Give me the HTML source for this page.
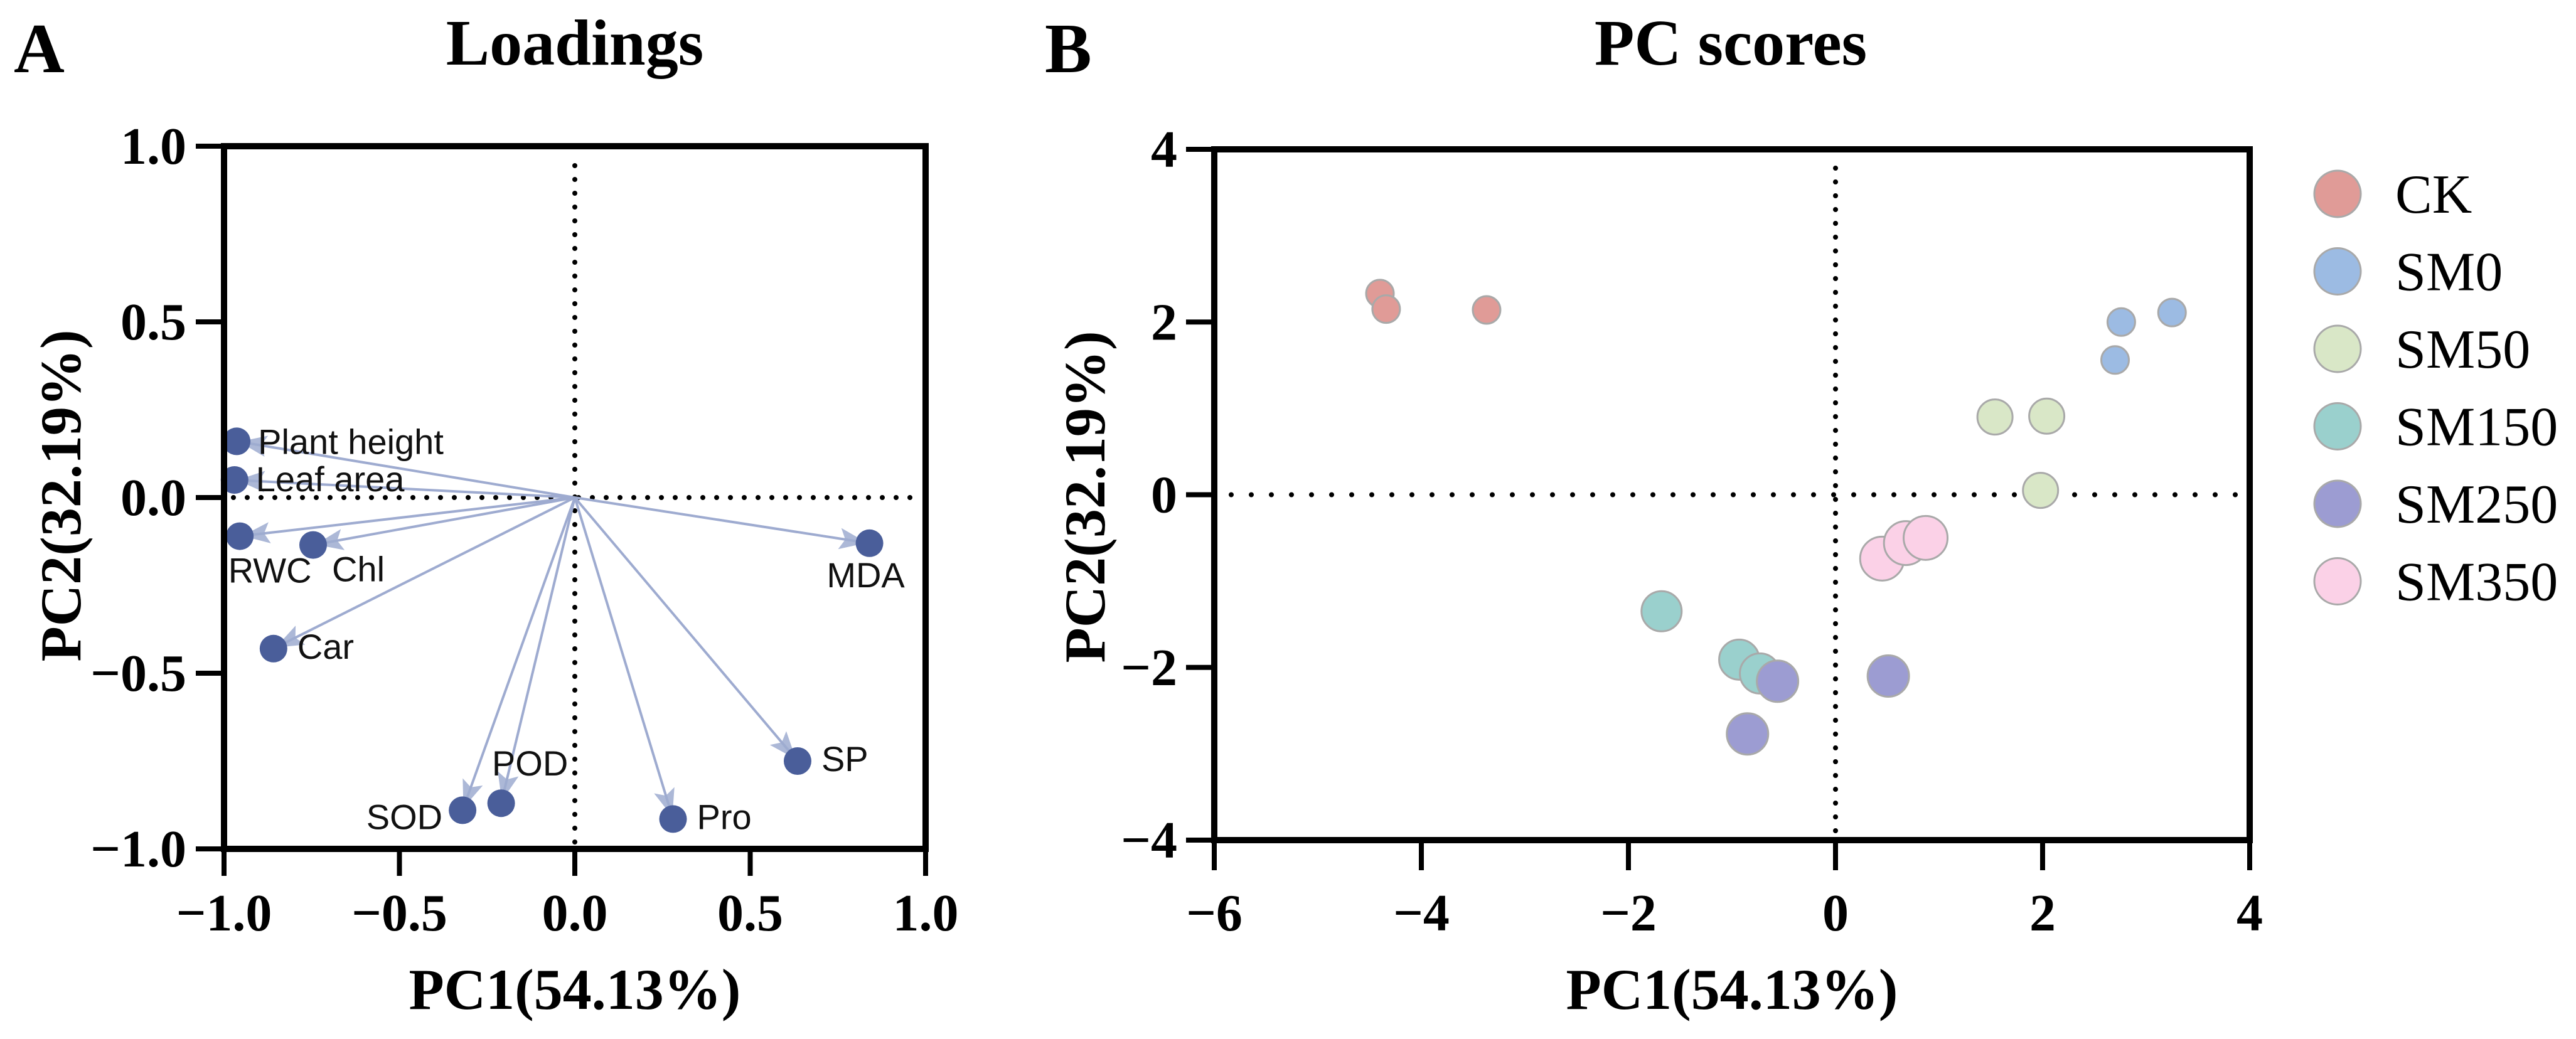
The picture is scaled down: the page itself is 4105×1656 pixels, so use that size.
<!DOCTYPE html>
<html><head><meta charset="utf-8"><style>
html,body{margin:0;padding:0;background:#fff;}
svg{display:block;}
.tb{font-family:"Liberation Serif",serif;font-weight:bold;}
.tn{font-family:"Liberation Serif",serif;}
.lab{font-family:"Liberation Sans",sans-serif;font-size:56px;fill:#111;}
</style></head><body>
<svg id="fig" width="4105" height="1656" viewBox="0 0 4105 1656" xmlns="http://www.w3.org/2000/svg">
<defs>
<marker id="ah2" viewBox="0 0 44 34" refX="42" refY="17" markerWidth="44" markerHeight="34" markerUnits="userSpaceOnUse" orient="auto">
<path d="M0,0 L44,17 L0,34 L9,17 z" fill="#9eabd0" fill-opacity="0.85"/>
</marker>
</defs>
<text class="tb" x="22" y="115" font-size="112">A</text>
<text class="tb" x="1665" y="115" font-size="112">B</text>
<text class="tb" x="916" y="103" font-size="104" text-anchor="middle">Loadings</text>
<text class="tb" x="2758" y="103" font-size="104" text-anchor="middle">PC scores</text>
<g id="pa"></g>
<g id="pb"></g>
</svg>
<script>
// ---------- Panel A data ----------
const varNames = ["Plant height","Leaf area","RWC","Chl","Car","SOD","POD","Pro","SP","MDA"];
const pc1Load = [-0.964,-0.97,-0.955,-0.746,-0.859,-0.32,-0.21,0.28,0.635,0.84];
const pc2Load = [0.16,0.05,-0.11,-0.135,-0.43,-0.89,-0.87,-0.915,-0.75,-0.13];
const aTicks = [-1.0,-0.5,0.0,0.5,1.0];
const aTickLabels = ["\u22121.0","\u22120.5","0.0","0.5","1.0"];
// ---------- Panel B data ----------
const groups = ["CK","SM0","SM50","SM150","SM250","SM350"];
const scoreX = [[-4.40,-4.34,-3.37],[2.76,3.25,2.70],[1.54,2.04,1.98],[-1.68,-0.93,-0.73],[-0.56,0.51,-0.85],[0.45,0.68,0.87]];
const scoreY = [[2.33,2.15,2.14],[2.0,2.11,1.56],[0.9,0.91,0.05],[-1.35,-1.91,-2.07],[-2.16,-2.10,-2.77],[-0.74,-0.56,-0.50]];
const bXTicks = [-6,-4,-2,0,2,4];
const bXTickLabels = ["\u22126","\u22124","\u22122","0","2","4"];
const bYTicks = [-4,-2,0,2,4];
const bYTickLabels = ["\u22124","\u22122","0","2","4"];

const NS="http://www.w3.org/2000/svg";
function mk(parent,tag,attrs,text){const e=document.createElementNS(NS,tag);for(const k in attrs)e.setAttribute(k,attrs[k]);if(text!==undefined)e.textContent=text;parent.appendChild(e);return e;}

// ----- Panel A -----
const A={x0:357,x1:1475,y0:1353,y1:233};
const ax=v=>A.x0+(v+1)/2*(A.x1-A.x0);
const ay=v=>A.y0-(v+1)/2*(A.y0-A.y1);
const pa=document.getElementById('pa');
let l=mk(pa,'line',{x1:ax(0),y1:264,x2:ax(0),y2:A.y0,stroke:'#000','stroke-width':8,'stroke-linecap':'round','stroke-dasharray':'0 22'});


l=mk(pa,'line',{x1:372,y1:ay(0),x2:1470,y2:ay(0),stroke:'#000','stroke-width':8,'stroke-linecap':'round','stroke-dasharray':'0 22'});


const labelPos=[[1,'start',34,20],[1,'start',34,18],[0,'middle',48,74],[1,'start',30,58],[1,'start',38,16],[0,'end',-32,30],[0,'middle',46,-44],[1,'start',38,16],[1,'start',38,16],[0,'middle',-6,70]];
varNames.forEach((n,i)=>{
  const px=ax(pc1Load[i]),py=ay(pc2Load[i]);
  const ox=ax(0),oy=ay(0);
  const dx=px-ox,dy=py-oy,L=Math.hypot(dx,dy),s=(L-6)/L;
  const a=mk(pa,'line',{x1:ox,y1:oy,x2:ox+dx*s,y2:oy+dy*s,stroke:'#9eabd0','stroke-width':4,'marker-end':'url(#ah2)'});
  
  
});
varNames.forEach((n,i)=>{
  const px=ax(pc1Load[i]),py=ay(pc2Load[i]);
  const c=mk(pa,'circle',{cx:px,cy:py,r:22,fill:'#4a5e9a'});
  
  
  const lp=labelPos[i];
  const t=mk(pa,'text',{x:px+lp[2],y:py+lp[3],'text-anchor':lp[1],class:'lab'},n);
  
  
});
let f=mk(pa,'rect',{x:A.x0,y:A.y1,width:A.x1-A.x0,height:A.y0-A.y1,fill:'none',stroke:'#000','stroke-width':10});


aTicks.forEach((v,i)=>{
  let t=mk(pa,'line',{x1:ax(v),y1:A.y0,x2:ax(v),y2:1396,stroke:'#000','stroke-width':8});
  
  
  let tx=mk(pa,'text',{x:ax(v),y:1483,'text-anchor':'middle',class:'tb','font-size':84},aTickLabels[i]);
  
  
  t=mk(pa,'line',{x1:312,y1:ay(v),x2:A.x0,y2:ay(v),stroke:'#000','stroke-width':8});
  
  
  tx=mk(pa,'text',{x:297,y:ay(v)+28,'text-anchor':'end',class:'tb','font-size':84},aTickLabels[i]);
  
  
});
let tt=mk(pa,'text',{x:916,y:1608,'text-anchor':'middle',class:'tb','font-size':92},'PC1(54.13%)');


tt=mk(pa,'text',{x:0,y:0,'text-anchor':'middle',class:'tb','font-size':92,transform:'translate(128,790) rotate(-90)'},'PC2(32.19%)');



// ----- Panel B -----
const B={x0:1935,x1:3585,y0:1339,y1:238};
const bx=v=>B.x0+(v+6)/10*(B.x1-B.x0);
const by=v=>B.y0-(v+4)/8*(B.y0-B.y1);
const pb=document.getElementById('pb');
const colors=['#e09b97','#9cbbe3','#d9e7c7','#9ad0cd','#9c9cd2','#fbd1e7'];
const radii=[22,22,28,32,33,35];
l=mk(pb,'line',{x1:bx(0),y1:268,x2:bx(0),y2:B.y0,stroke:'#000','stroke-width':8,'stroke-linecap':'round','stroke-dasharray':'0 22'});


l=mk(pb,'line',{x1:1962,y1:by(0),x2:3565,y2:by(0),stroke:'#000','stroke-width':8,'stroke-linecap':'round','stroke-dasharray':'0 32'});


groups.forEach((g,gi)=>{
  scoreX[gi].forEach((xv,j)=>{
    const c=mk(pb,'circle',{cx:bx(xv),cy:by(scoreY[gi][j]),r:radii[gi],fill:colors[gi],stroke:'#a9a9a9','stroke-width':3});
    
    
  });
  const lc=mk(pb,'circle',{cx:3725,cy:309+gi*123.5,r:37,fill:colors[gi],stroke:'#a9a9a9','stroke-width':3});
  
  
  const lt=mk(pb,'text',{x:3817,y:309+gi*123.5+30,class:'tn','font-size':88},g);
  
  
});
f=mk(pb,'rect',{x:B.x0,y:B.y1,width:B.x1-B.x0,height:B.y0-B.y1,fill:'none',stroke:'#000','stroke-width':10});


bXTicks.forEach((v,i)=>{
  let t=mk(pb,'line',{x1:bx(v),y1:B.y0,x2:bx(v),y2:1387,stroke:'#000','stroke-width':8});
  
  
  let tx=mk(pb,'text',{x:bx(v),y:1483,'text-anchor':'middle',class:'tb','font-size':84},bXTickLabels[i]);
  
  
});
bYTicks.forEach((v,i)=>{
  let t=mk(pb,'line',{x1:1890,y1:by(v),x2:B.x0,y2:by(v),stroke:'#000','stroke-width':8});
  
  
  let tx=mk(pb,'text',{x:1876,y:by(v)+28,'text-anchor':'end',class:'tb','font-size':84},bYTickLabels[i]);
  
  
});
tt=mk(pb,'text',{x:2760,y:1608,'text-anchor':'middle',class:'tb','font-size':92},'PC1(54.13%)');


tt=mk(pb,'text',{x:0,y:0,'text-anchor':'middle',class:'tb','font-size':92,transform:'translate(1760,792) rotate(-90)'},'PC2(32.19%)');


</script>
</body></html>
